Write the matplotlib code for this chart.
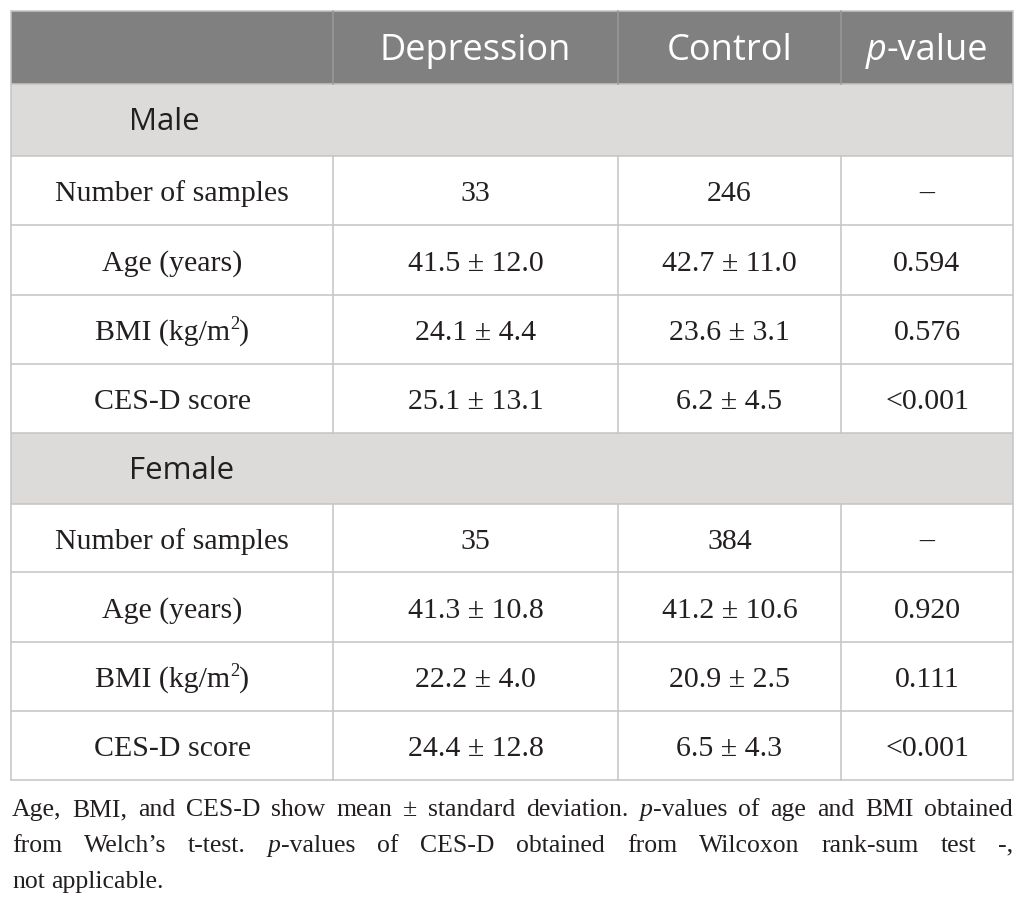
import matplotlib
matplotlib.use('Agg')
import matplotlib.pyplot as plt
from matplotlib.patches import Rectangle

# ---------------- data ----------------
columns = ["Depression", "Control", "p-value"]
groups = ["Male", "Female"]
row_labels = ["Number of samples", "Age (years)", "BMI (kg/m2)", "CES-D score"]
male_depression = ["33", "41.5 ± 12.0", "24.1 ± 4.4", "25.1 ± 13.1"]
male_control = ["246", "42.7 ± 11.0", "23.6 ± 3.1", "6.2 ± 4.5"]
male_p = ["–", "0.594", "0.576", "<0.001"]
female_depression = ["35", "41.3 ± 10.8", "22.2 ± 4.0", "24.4 ± 12.8"]
female_control = ["384", "41.2 ± 10.6", "20.9 ± 2.5", "6.5 ± 4.3"]
female_p = ["–", "0.920", "0.111", "<0.001"]
caption_lines = [
    "Age, BMI, and CES-D show mean ± standard deviation. *p*-values of age and BMI obtained",
    "from Welch’s t-test. *p*-values of CES-D obtained from Wilcoxon rank-sum test -,",
    "not applicable.",
]

# ---------------- layout ----------------
W, H = 1026, 905
fig = plt.figure(figsize=(W / 100, H / 100), dpi=100)
ax = fig.add_axes([0, 0, 1, 1])
ax.set_xlim(0, W)
ax.set_ylim(H, 0)
ax.axis('off')
renderer = fig.canvas.get_renderer()

x_edges = [11, 333, 618, 841, 1013]
y_edges = [11, 84, 156, 225, 295, 364, 433, 504, 572, 642, 711, 780]
HEADER_BG = '#808080'
SECTION_BG = '#DCDBDA'
LINE = '#C4C4C4'
TXT = '#231F20'

SERIF = 'Liberation Serif'
SANS = 'Open Sans'
PT = 100 / 72.0


def width_of(s, **kw):
    t = ax.text(0, 0, s, **kw)
    bb = t.get_window_extent(renderer)
    t.remove()
    return bb.width


def parse_runs(s):
    runs = []
    parts = s.split('*')
    for i, p in enumerate(parts):
        if p:
            runs.append((p, 'italic' if i % 2 == 1 else 'normal'))
    return runs


def draw_runs(runs, x, baseline, family, size, color, align='center', sup=None):
    items = []
    for txt, style in runs:
        items.append((txt, dict(family=family, size=size, style=style), 0.0))
    if sup is not None:
        items.insert(sup[0], (sup[1], dict(family=family, size=size * 0.62, style='normal'),
                              -0.38 * size * PT))
    widths = [width_of(t, **kw) for t, kw, _ in items]
    total = sum(widths)
    cx = x - total / 2 if align == 'center' else x
    for (t, kw, dy), w in zip(items, widths):
        ax.text(cx, baseline + dy, t, color=color, ha='left', va='baseline', **kw)
        cx += w


# header background
ax.add_patch(Rectangle((x_edges[0], y_edges[0]), x_edges[-1] - x_edges[0], y_edges[1] - y_edges[0],
                       facecolor=HEADER_BG, edgecolor='none', zorder=0))
# section rows
for yi in (1, 6):
    ax.add_patch(Rectangle((x_edges[0], y_edges[yi]), x_edges[-1] - x_edges[0], y_edges[yi + 1] - y_edges[yi],
                           facecolor=SECTION_BG, edgecolor='none', zorder=0))

# horizontal lines
for y in y_edges:
    ax.plot([x_edges[0], x_edges[-1]], [y, y], color=LINE, lw=1.1, zorder=1, solid_capstyle='butt')
# vertical lines
for xi, x in enumerate(x_edges):
    if xi in (0, len(x_edges) - 1):
        ax.plot([x, x], [y_edges[0], y_edges[-1]], color=LINE, lw=1.1, zorder=1)
    else:
        ax.plot([x, x], [y_edges[0], y_edges[1]], color='#9A9A9A', lw=1.1, zorder=1)
        ax.plot([x, x], [y_edges[2], y_edges[6]], color=LINE, lw=1.1, zorder=1)
        ax.plot([x, x], [y_edges[7], y_edges[-1]], color=LINE, lw=1.1, zorder=1)

col_centers = [(x_edges[i] + x_edges[i + 1]) / 2 for i in range(4)]

# header text
hsize = 26
hbase = (y_edges[0] + y_edges[1]) / 2 + 12.5
for ci, name in enumerate(columns):
    if name.startswith('p-'):
        runs = [('p', 'italic'), (name[1:], 'normal')]
    else:
        runs = [(name, 'normal')]
    draw_runs(runs, col_centers[ci + 1], hbase, SANS, hsize, 'white')

# body
bsize = 21.5
ssize = 22.5
group_data = [
    (male_depression, male_control, male_p),
    (female_depression, female_control, female_p),
]
for gi, grp in enumerate(groups):
    sy = 1 + gi * 5
    sbase = (y_edges[sy] + y_edges[sy + 1]) / 2 + 10.5
    ax.text(129, sbase, grp, family=SANS, size=ssize, color=TXT, ha='left', va='baseline')
    dep, con, pv = group_data[gi]
    for ri, lab in enumerate(row_labels):
        yi = sy + 1 + ri
        base = (y_edges[yi] + y_edges[yi + 1]) / 2 + 10.5
        if lab.endswith('m2)'):
            draw_runs([(lab[:-2], 'normal'), (')', 'normal')], col_centers[0], base, SERIF, bsize, TXT,
                      sup=(1, '2'))
        else:
            draw_runs([(lab, 'normal')], col_centers[0], base, SERIF, bsize, TXT)
        for ci, vals in enumerate((dep, con, pv)):
            draw_runs([(vals[ri], 'normal')], col_centers[ci + 1], base, SERIF, bsize, TXT)

# caption (justified)
csize = 18.5
cleft, cright = 12, x_edges[-1]
cbases = [816, 852, 888]
for li, line in enumerate(caption_lines):
    words = line.split(' ')
    wruns = [parse_runs(w) for w in words]
    wwidths = [sum(width_of(t, family=SERIF, size=csize, style=s) for t, s in r) for r in wruns]
    space = width_of('a a', family=SERIF, size=csize) - 2 * width_of('a', family=SERIF, size=csize)
    if li < len(caption_lines) - 1 and len(words) > 1:
        gap = (cright - cleft - sum(wwidths)) / (len(words) - 1)
    else:
        gap = space
    x = cleft
    for r, w in zip(wruns, wwidths):
        draw_runs(r, x, cbases[li], SERIF, csize, TXT, align='left')
        x += w + gap

fig.savefig('out.png', dpi=100, facecolor='white')
